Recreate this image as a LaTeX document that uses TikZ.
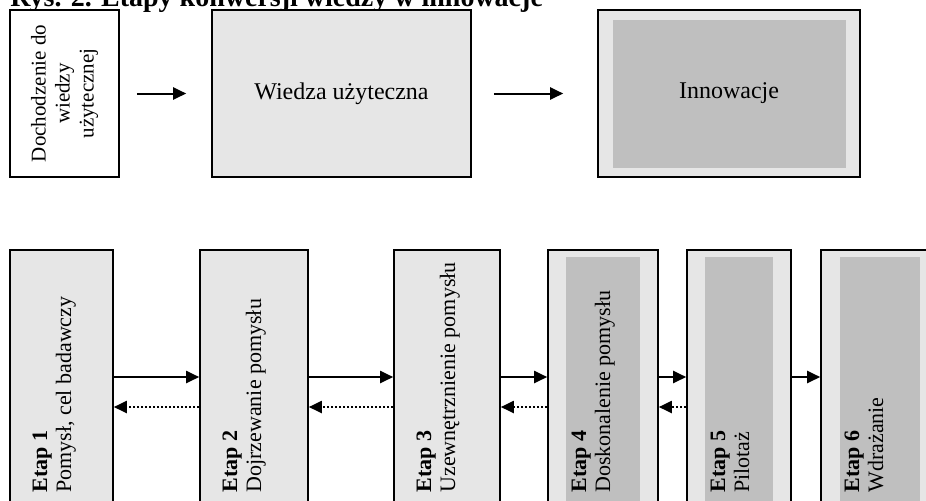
\documentclass[tikz,border=0pt]{standalone}
\usepackage{fontspec}
\setmainfont{Liberation Serif}
\usetikzlibrary{arrows.meta, positioning, calc}
\definecolor{lightfill}{HTML}{E6E6E6}
\definecolor{darkfill}{HTML}{BFBFBF}

\begin{document}
\begin{tikzpicture}[
        x=0.5pt, y=-0.5pt,
        box/.style={rectangle, draw=black, line width=0.8pt, inner sep=0pt},
        greybox/.style={box, fill=lightfill},
        inset/.style 2 args={path picture={
            \fill[darkfill] ([shift={(#1,-#2)}]path picture bounding box.north west)
              rectangle ([shift={(-#1,#2)}]path picture bounding box.south east);}},
        stagebox/.style={greybox, minimum width=#1, minimum height=132.5pt},
        stagetext/.style={rotate=90, anchor=north west, align=left, inner sep=0pt,
                          font=\fontsize{11}{12}\selectfont},
        arr/.style={-{Triangle[length=6.5pt, width=6pt]}, line width=1pt},
        back/.style={arr, dash pattern=on 1pt off 1pt}
      ]
        \path[use as bounding box, clip] (0,0) rectangle (926,500);
        \node[anchor=base west, inner sep=0pt, font=\fontsize{14}{16}\selectfont\bfseries]
          (title) at (10,6) {Rys. 2. Etapy konwersji wiedzy w innowacje};

        % upper row
        \node[box, fill=white, rotate=90, minimum width=83.5pt, minimum height=54.5pt,
              align=center, font=\fontsize{10.5}{12}\selectfont]
          (dochodzenie) at (64.5,93.5) {Dochodzenie do\\wiedzy\\użytecznej};
        \node[greybox, minimum width=129.5pt, minimum height=83.5pt,
              font=\fontsize{12}{14}\selectfont]
          (wiedza) at (341.5,93.5) {Wiedza użyteczna};
        \node[greybox, inset={7.25pt}{4.75pt}, minimum width=131pt, minimum height=83.5pt,
              font=\fontsize{12}{14}\selectfont]
          (innowacje) at (729,93.5) {Innowacje};
        \draw[arr, shorten <=8.5pt, shorten >=12.5pt] (dochodzenie) -- (wiedza);
        \draw[arr, shorten <=11pt, shorten >=17pt] (wiedza) -- (innowacje);

        % lower row
        \node[stagebox=51.5pt] (e1) at (61.5,382.5) {};
        \node[stagebox=54pt] (e2) at (254,382.5) {};
        \node[stagebox=53pt] (e3) at (447,382.5) {};
        \node[stagebox=55pt, inset={9pt}{3.5pt}] (e4) at (603,382.5) {};
        \node[stagebox=52pt, inset={9pt}{3.5pt}] (e5) at (739,382.5) {};
        \node[stagebox=59pt, inset={9.5pt}{3.5pt}] (e6) at (880,382.5) {};

        \node[stagetext] (t1) at ($(e1.west |- 0,493)+(23,0)$) {\textbf{Etap 1}\\Pomysł, cel badawczy};
        \node[stagetext] (t2) at ($(e2.west |- 0,493)+(23,0)$) {\textbf{Etap 2}\\Dojrzewanie pomysłu};
        \node[stagetext] (t3) at ($(e3.west |- 0,493)+(23,0)$) {\textbf{Etap 3}\\Uzewnętrznienie pomysłu};
        \node[stagetext] (t4) at ($(e4.west |- 0,493)+(24,0)$) {\textbf{Etap 4}\\Doskonalenie pomysłu};
        \node[stagetext] (t5) at ($(e5.west |- 0,493)+(24,0)$) {\textbf{Etap 5}\\Pilotaż};
        \node[stagetext] (t6) at ($(e6.west |- 0,493)+(24,0)$) {\textbf{Etap 6}\\Wdrażanie};

        \draw[arr] ([yshift=2.75pt]e1.east) -- ([yshift=2.75pt]e2.west);
        \draw[arr] ([yshift=2.75pt]e2.east) -- ([yshift=2.75pt]e3.west);
        \draw[arr] ([yshift=2.75pt]e3.east) -- ([yshift=2.75pt]e4.west);
        \draw[arr] ([yshift=2.75pt]e4.east) -- ([yshift=2.75pt]e5.west);
        \draw[arr] ([yshift=2.75pt]e5.east) -- ([yshift=2.75pt]e6.west);
        \draw[back] ([yshift=-12.25pt]e2.west) -- ([yshift=-12.25pt]e1.east);
        \draw[back] ([yshift=-12.25pt]e3.west) -- ([yshift=-12.25pt]e2.east);
        \draw[back] ([yshift=-12.25pt]e4.west) -- ([yshift=-12.25pt]e3.east);
        \draw[back] ([yshift=-12.25pt]e5.west) -- ([yshift=-12.25pt]e4.east);
      \end{tikzpicture}
\end{document}
